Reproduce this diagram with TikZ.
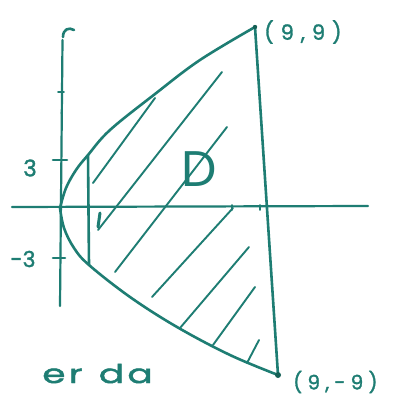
\documentclass[tikz,border=0pt]{standalone}
\usepackage{fontspec}
\newfontfamily\hand[FakeBold=1.5]{Poppins}
\newfontfamily\handD{Poppins}
\newfontfamily\handsp[LetterSpace=33, FakeBold=1.5]{Poppins}
\newfontfamily\handspn[LetterSpace=26, FakeBold=1.5]{Poppins}
\newfontfamily\handwide[FakeStretch=1.45, LetterSpace=12, FakeBold=1.8]{Poppins}
\definecolor{ink}{RGB}{30,125,115}
\definecolor{inkdark}{RGB}{20,95,85}
\begin{document}
\begin{tikzpicture}[x=1pt,y=-1pt, line cap=round, line join=round,
  inkline/.style={draw=ink, line width=2.6pt},
  axisline/.style={draw=ink, line width=2.2pt},
  hatch/.style={draw=ink, line width=1.9pt},
  lbl/.style={text=ink, inner sep=0pt}]
\useasboundingbox (0,0) rectangle (392,403);
\fill[white] (0,0) rectangle (392,403);
% key points
\coordinate (O) at (60,208);
\coordinate (P) at (255,27);
\coordinate (Q) at (278,375);
\coordinate (U) at (88,155);
\coordinate (L) at (89,265);
% axes
\draw[axisline] (12,207) -- (368,206);
\draw[axisline] (62.5,40) -- (60,306);
\draw[inkline] (63,37) .. controls (63,29) and (69,27) .. (74,30);
% ticks
\draw[inkline] (53,160) -- (67,160);
\draw[inkline] (53,258) -- (65,258);
\draw[axisline, line width=1.8pt] (58,92) -- (64,92);
\fill[ink] (61.5,113) circle (1.2);
\draw[axisline, line width=1.8pt] (232,205) -- (232,210);
\draw[axisline, line width=1.8pt] (260,205) -- (260,210);
% parabola
\draw[inkline] plot[smooth, tension=0.6] coordinates {(60,208) (66,188) (76,170) (88,155) (110,130) (155,94) (200,60) (255,27)};
\draw[inkline] plot[smooth, tension=0.6] coordinates {(60,208) (64,228) (74,248) (89,265) (130,297) (177,327) (230,355) (278,375)};
% vertical lines
\draw[inkline] (P) -- (Q);
\draw[inkline] (U) -- (L);
% hatching
\draw[hatch] (93,183) -- (155,98);
\draw[hatch] (98,230) -- (222,72);
\draw[hatch] (115,272) -- (227,127);
\draw[hatch] (152,297) -- (233,208);
\draw[hatch] (180,328) -- (249,247);
\draw[hatch] (213,345) -- (255,287);
\draw[hatch] (247,363) -- (259,340);
\draw[ink, line width=3pt] (100,213) -- (98,227);
% corner dots
\fill[inkdark] (P) circle (2.2);
\fill[inkdark] (Q) circle (3);
% labels
\node[lbl, anchor=west, font=\handsp\fontsize{21}{21}\selectfont] (p99) at (264,32) {(9,9)};
\node[lbl, anchor=west, font=\handspn\fontsize{20}{20}\selectfont] (p9m9) at (293,382) {(9,-9)};
\node[lbl, font=\handD\fontsize{50}{50}\selectfont] (D) at (199,169) {D};
\node[lbl, font=\hand\fontsize{23}{23}\selectfont] (t3) at (30,168) {3};
\node[lbl, font=\hand\fontsize{22}{22}\selectfont] (tm3) at (23,259) {-3};
\node[lbl, anchor=base west, font=\handwide\fontsize{26}{26}\selectfont] (erda) at (42,383) {er\hspace{16pt}da};
\end{tikzpicture}
\end{document}
